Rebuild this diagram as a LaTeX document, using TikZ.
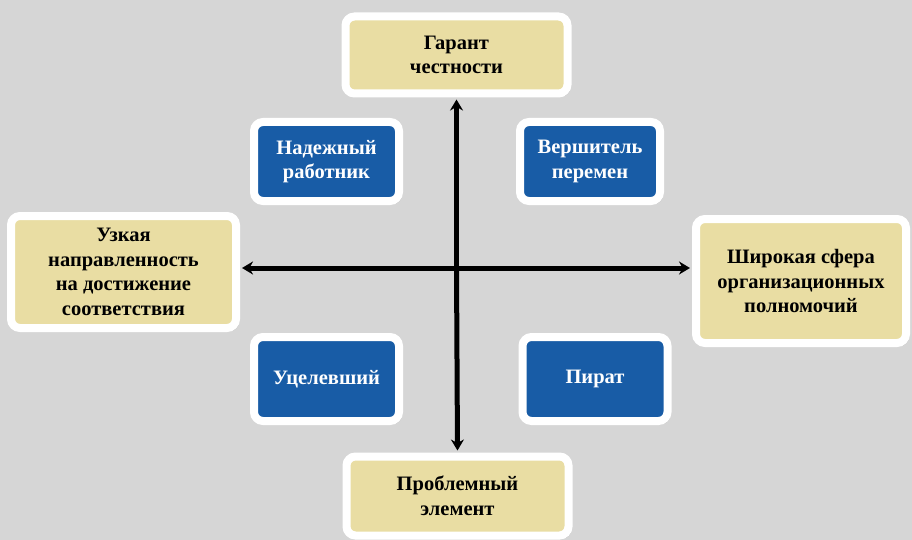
\documentclass[tikz,border=0pt]{standalone}
\usepackage{fontspec}
\setmainfont{Liberation Serif}
\usetikzlibrary{shadows,arrows.meta}
\definecolor{bgc}{RGB}{214,214,214}
\definecolor{tanc}{RGB}{233,221,163}
\definecolor{bluec}{RGB}{24,92,166}
\tikzset{
  frame/.style={draw=white, line width=8pt, rounded corners=9pt, align=center,
    font=\bfseries\fontsize{20.5}{24.5}\selectfont, inner sep=2pt,
    drop shadow={shadow xshift=3pt, shadow yshift=-3pt, fill=black!45, opacity=.45}},
  tanbox/.style={frame, fill=tanc, text=black},
  bluebox/.style={frame, fill=bluec, text=white},
  axis/.style={line width=5pt, -{Stealth[length=11pt,width=13pt]}, shorten >=2pt}
}
\begin{document}
\begin{tikzpicture}[x=1pt,y=-1pt]
\useasboundingbox (0,0) rectangle (912,540);
\fill[bgc] (0,0) rectangle (912,540);
\node[tanbox, minimum width=222pt, minimum height=77pt] (T) at (456.5,55) {Гарант\\честности};
\node[tanbox, minimum width=222pt, minimum height=79pt] (B) at (457.5,496) {Проблемный\\элемент};
\node[tanbox, minimum width=225pt, minimum height=112pt] (L) at (123.5,272) {Узкая\\направленность\\на достижение\\соответствия};
\node[tanbox, minimum width=210pt, minimum height=124pt] (R) at (801,281) {Широкая сфера\\организационных\\полномочий};
\node[bluebox, minimum width=145pt, minimum height=79pt] (NW) at (326.5,161.5) {Надежный\\работник};
\node[bluebox, minimum width=140pt, minimum height=79pt] (NE) at (590,161.5) {Вершитель\\перемен};
\node[bluebox, minimum width=145pt, minimum height=84pt] (SW) at (326.5,379) {Уцелевший};
\node[bluebox, minimum width=145pt, minimum height=84pt] (SE) at (595,379) {Пират};
\coordinate (C) at (456.5,268);
\draw[axis] (C) -- (T.south);
\draw[axis] (C) -- (B.north);
\draw[axis] (C) -- (L.east |- C);
\draw[axis] (C) -- (R.west |- C);
\end{tikzpicture}
\end{document}
